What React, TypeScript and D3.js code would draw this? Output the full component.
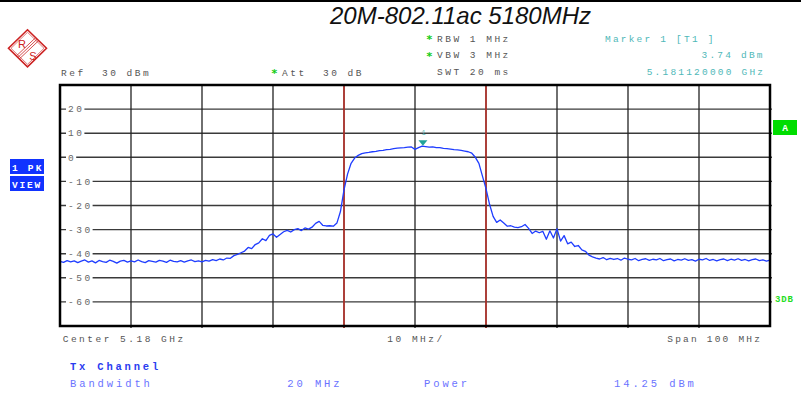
import React from "react";
import * as d3 from "d3";

// ---- Data ----
const sweepStartMHz = 5130;
const sweepStopMHz = 5230;
const sweepStepMHz = 0.5;
// Trace 1 (PK / VIEW) levels in dBm, one per sweep point from 5130 to 5230 MHz
const traceLevels: number[] = [
  -43.2, -43.6, -42.9, -43.4, -43.0, -43.7, -43.1, -42.6, -43.5, -43.0,
  -43.8, -42.8, -43.3, -43.6, -42.7, -43.2, -43.9, -43.1, -42.8, -43.5,
  -43.0, -43.4, -42.6, -43.3, -43.7, -42.9, -43.2, -43.5, -42.8, -43.1,
  -43.6, -42.7, -43.2, -43.4, -42.9, -43.5, -43.0, -42.6, -43.3, -43.0,
  -43.4, -42.8, -43.1, -42.5, -42.9, -42.2, -42.6, -41.8, -41.9, -40.8,
  -40.3, -39.6, -38.9, -37.4, -37.9, -36.2, -35.5, -33.8, -34.6, -32.4,
  -31.8, -33.2, -32.0, -30.9, -30.3, -31.0, -30.0, -29.6, -30.4, -29.3,
  -29.8, -29.0, -27.4, -26.6, -28.2, -28.5, -28.4, -28.6, -27.3, -22.5,
  -13.5, -7.0, -2.5, -0.3, 0.8, 1.5, 1.8, 2.0, 2.3, 2.5,
  2.8, 2.9, 3.2, 3.3, 3.6, 3.8, 3.9, 4.0, 4.2, 4.3,
  3.3, 4.0, 4.6, 4.4, 4.2, 4.3, 4.0, 4.0, 3.7, 3.6,
  3.4, 3.2, 3.1, 2.9, 2.6, 2.3, 1.7, 0.0, -2.5, -7.8,
  -13.0, -19.5, -24.5, -27.0, -26.0, -27.3, -28.6, -28.4, -29.0, -29.2,
  -28.8, -27.9, -29.5, -31.6, -30.6, -31.3, -30.7, -34.0, -30.5, -33.5,
  -29.6, -34.8, -32.5, -35.9, -35.2, -37.0, -36.6, -38.4, -39.0, -40.6,
  -41.3, -41.8, -42.2, -41.6, -42.5, -41.9, -42.4, -42.0, -42.7, -41.8,
  -42.3, -42.6, -42.0, -42.9, -42.4, -42.1, -42.8, -42.3, -42.6, -42.0,
  -42.9, -42.5, -42.2, -43.0, -42.4, -42.7, -42.1, -42.8, -42.5, -43.1,
  -42.3, -42.6, -42.0, -42.8, -42.4, -43.0, -42.5, -42.2, -42.9, -42.3,
  -42.7, -42.1, -42.8, -42.4, -43.0, -42.5, -42.2, -42.9, -42.6, -43.1,
  -42.7,
];
const yTicks = [20, 10, 0, -10, -20, -30, -40, -50, -60];
const yTickLabels = ["20", "10", "0", "-10", "-20", "-30", "-40", "-50", "-60"];
const xGridMHz = [5140, 5150, 5160, 5170, 5180, 5190, 5200, 5210, 5220];
const channelLinesMHz = [5170, 5190];
const markerFreqMHz = 5181.12;
const markerLevel = 3.74;
const refLevel = 30;
const bottomLevel = -70;

// ---- Layout ----
const W = 801;
const H = 398;
const plot = { left: 60, right: 770, top: 85, bottom: 326 };

const mono: React.CSSProperties = {
  fontFamily: "'Liberation Mono', 'DejaVu Sans Mono', monospace",
  fontSize: 9.5,
  letterSpacing: 2.5,
  whiteSpace: "pre",
};

export default function App() {
  const x = d3.scaleLinear().domain([sweepStartMHz, sweepStopMHz]).range([plot.left, plot.right]);
  const y = d3.scaleLinear().domain([bottomLevel, refLevel]).range([plot.bottom, plot.top]);

  const pts: [number, number][] = traceLevels.map((v, i) => [sweepStartMHz + i * sweepStepMHz, v]);
  const line = d3
    .line<[number, number]>()
    .x((d) => x(d[0]))
    .y((d) => y(d[1]));

  const mx = x(markerFreqMHz);
  const tipY = y(markerLevel) - 2.5;

  const grey = "#555";
  const teal = "#4fb8b8";
  const green = "#11cc11";
  const star: React.CSSProperties = {
    fontFamily: "'DejaVu Sans', sans-serif",
    fontSize: 11,
    fontWeight: "bold",
  };

  return (
    <svg
      width={W}
      height={H}
      viewBox={`0 0 ${W} ${H}`}
      style={{ position: "absolute", left: 0, top: 0, background: "#fff" }}
    >
      <rect x={0} y={0} width={W} height={H} fill="#fff" />
      <rect x={0} y={0} width={W} height={2} fill="#000" />

      {/* Title */}
      <text
        x={330}
        y={24}
        style={{ fontFamily: "'Liberation Sans', Arial, sans-serif", fontStyle: "italic", fontSize: 24 }}
        fill="#111"
      >
        20M-802.11ac 5180MHz
      </text>

      {/* R&S logo */}
      <g transform="translate(27.5,48.3)" stroke="#cc2222" fill="none">
        <path d="M0,-18.5 L19,0 L0,18.5 L-19,0 Z" strokeWidth={1.6} />
        <path d="M0,-16 L16.5,0 L0,16 L-16.5,0 Z" strokeWidth={0.6} />
        <line x1={-9.5} y1={9} x2={9.5} y2={-9} strokeWidth={0.8} />
        <line x1={-8} y1={10.5} x2={11} y2={-7.5} strokeWidth={0.8} />
        <line x1={-11} y1={7.5} x2={8} y2={-10.5} strokeWidth={0.8} />
        <text x={-5.5} y={-0.5} fill="#cc2222" stroke="none"
          style={{ fontFamily: "'Liberation Sans', Arial, sans-serif", fontSize: 11 }} textAnchor="middle">R</text>
        <text x={5.5} y={11.5} fill="#cc2222" stroke="none"
          style={{ fontFamily: "'Liberation Sans', Arial, sans-serif", fontSize: 11 }} textAnchor="middle">S</text>
      </g>

      {/* Header texts */}
      <text x={61} y={75.5} style={mono} fill={grey}>Ref  30 dBm</text>
      <text x={271.5} y={77} style={star} fill={green}>*</text>
      <text x={282} y={75.5} style={mono} fill={grey}>Att  30 dB</text>
      <text x={426.5} y={43} style={star} fill={green}>*</text>
      <text x={437} y={41.5} style={mono} fill={grey}>RBW 1 MHz</text>
      <text x={426.5} y={59.8} style={star} fill={green}>*</text>
      <text x={437} y={58.3} style={mono} fill={grey}>VBW 3 MHz</text>
      <text x={437} y={75} style={mono} fill={grey}>SWT 20 ms</text>
      <text x={605} y={41.5} style={{ ...mono, letterSpacing: 2.2 }} fill={teal}>Marker 1 [T1 ]</text>
      <text x={701.5} y={58.3} style={{ ...mono, letterSpacing: 2.2 }} fill={teal}>3.74 dBm</text>
      <text x={646.7} y={75} style={{ ...mono, letterSpacing: 2.2 }} fill={teal}>5.181120000 GHz</text>

      {/* Side boxes */}
      <rect x={10} y={159} width={34} height={15} fill="#1133ff" />
      <text x={12} y={170.5} style={{ ...mono, fontWeight: "bold", letterSpacing: 2.2 }} fill="#fff">1 PK</text>
      <rect x={10} y={176} width={34} height={15} fill="#1133ff" />
      <text x={12} y={187.5} style={{ ...mono, fontWeight: "bold", letterSpacing: 1.8 }} fill="#fff">VIEW</text>
      <rect x={773} y={120} width={24} height={15} fill="#00dd00" />
      <text x={785} y={131} style={{ ...mono, fontWeight: "bold", letterSpacing: 0 }} fill="#fff" textAnchor="middle">A</text>
      <text x={775} y={302} style={{ ...mono, fontWeight: "bold", letterSpacing: 0.8, fontSize: 9 }} fill="#22dd22">3DB</text>

      {/* Grid */}
      {yTicks.map((t) => (
        <line key={"h" + t} x1={plot.left} x2={plot.right + 2} y1={y(t)} y2={y(t)} stroke="#3a3a3a" strokeWidth={1.4} />
      ))}
      {xGridMHz.map((f) => (
        <line key={"v" + f} x1={x(f)} x2={x(f)} y1={plot.top} y2={plot.bottom + 2} stroke="#222" strokeWidth={1.3} />
      ))}
      {channelLinesMHz.map((f) => (
        <line key={"c" + f} x1={x(f)} x2={x(f)} y1={plot.top} y2={plot.bottom + 2} stroke="#c03028" strokeWidth={1.5} />
      ))}

      {/* Y labels */}
      {yTicks.map((t, i) => {
        const lbl = yTickLabels[i];
        const w = lbl.length * 8.2 - 2;
        return (
          <g key={"yl" + t}>
            <rect x={66} y={y(t) - 5} width={w + 4} height={10} fill="#fff" />
            <text x={68} y={y(t) + 3.2} style={mono} fill="#666">{lbl}</text>
          </g>
        );
      })}

      {/* Trace */}
      <path d={line(pts) ?? ""} fill="none" stroke="#1f3dff" strokeWidth={1.3} strokeLinejoin="round" />

      {/* Marker */}
      <path d={`M${mx - 4.5},${tipY - 5.5} L${mx + 4.5},${tipY - 5.5} L${mx},${tipY} Z`} fill="#1fa39a" />
      <text x={mx - 1.5} y={135} style={{ ...mono, fontSize: 7, letterSpacing: 0 }} fill={teal}>1</text>

      {/* Frame */}
      <rect x={plot.left} y={plot.top} width={plot.right - plot.left} height={plot.bottom - plot.top}
        fill="none" stroke="#000" strokeWidth={2.5} />

      {/* Bottom texts */}
      <text x={62.7} y={341.7} style={mono} fill={grey}>Center 5.18 GHz</text>
      <text x={387.3} y={341.7} style={mono} fill={grey}>10 MHz/</text>
      <text x={667.3} y={341.7} style={{ ...mono, letterSpacing: 2.2 }} fill={grey}>Span 100 MHz</text>

      <text x={70} y={370} style={{ ...mono, fontSize: 10.5, letterSpacing: 2.8, fontWeight: "bold" }} fill="#2a3cf0">Tx Channel</text>
      <text x={70} y={386.7} style={{ ...mono, fontSize: 10.5, letterSpacing: 2.9 }} fill="#6b74ff">Bandwidth</text>
      <text x={287.3} y={386.7} style={{ ...mono, fontSize: 10.5, letterSpacing: 2.9 }} fill="#6b74ff">20 MHz</text>
      <text x={424} y={386.7} style={{ ...mono, fontSize: 10.5, letterSpacing: 2.9 }} fill="#6b74ff">Power</text>
      <text x={614} y={386.7} style={{ ...mono, fontSize: 10.5, letterSpacing: 2.9 }} fill="#6b74ff">14.25 dBm</text>
    </svg>
  );
}
